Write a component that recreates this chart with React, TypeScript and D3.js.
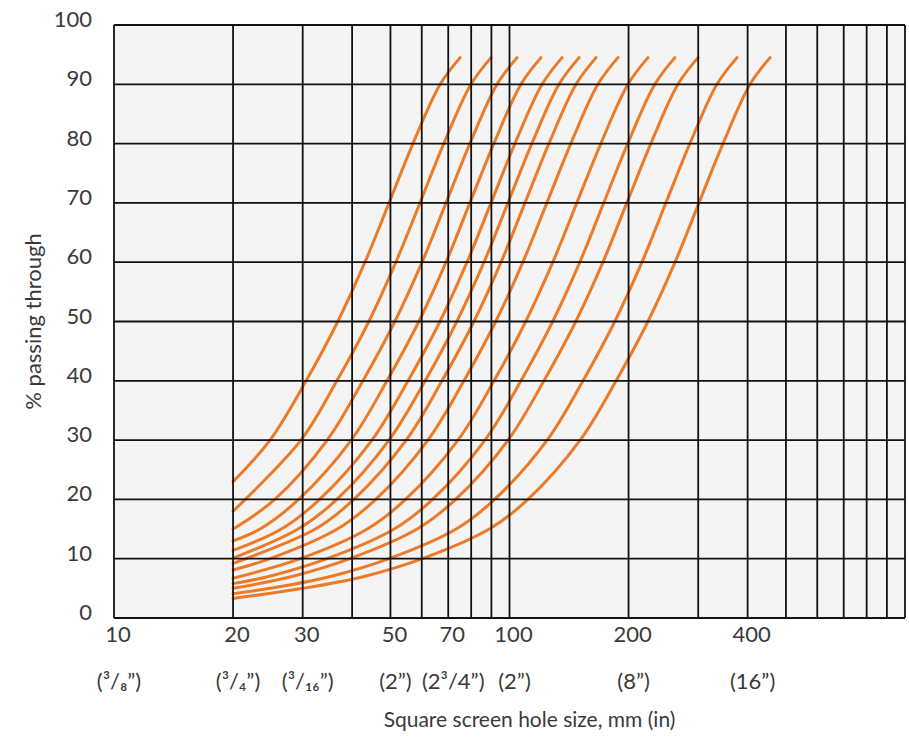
import React from "react";
import * as d3 from "d3";

// Grid values (mm) and y ticks (%)
const gridX = [10, 20, 30, 40, 50, 60, 70, 80, 90, 100, 200, 300, 400, 500, 600, 700, 800, 900, 1000];
const yTicks = [0, 10, 20, 30, 40, 50, 60, 70, 80, 90, 100];

// X tick labels: value (mm), mm label, inch label
const xTickValues = [10, 20, 30, 50, 70, 100, 200, 400];
const xTickMm = ["10", "20", "30", "50", "70", "100", "200", "400"];
const xTickIn = ["(³/₈”)", "(³/₄”)", "(³/₁₆”)", "(2”)", "(2³/4”)", "(2”)", "(8”)", "(16”)"];

// Grading curves: [screen size mm, % passing]
const curve1 = [[20, 23], [24.8, 30], [30.6, 40], [36.8, 50], [43.1, 60], [49.6, 70], [57, 80], [66.8, 90], [75, 94.5]];
const curve2 = [[20, 18], [29.7, 30], [36.6, 40], [44.1, 50], [51.6, 60], [59.4, 70], [68.2, 80], [79.9, 90], [89.8, 94.5]];
const curve3 = [[20, 15], [25.5, 20], [34.6, 30], [42.6, 40], [51.3, 50], [60.1, 60], [69.1, 70], [79.4, 80], [93, 90], [104.5, 94.5]];
const curve4 = [[20, 13], [23.4, 15], [29.3, 20], [39.8, 30], [49, 40], [59, 50], [69.1, 60], [79.4, 70], [91.3, 80], [106.9, 90], [120.1, 94.5]];
const curve5 = [[20, 11.4], [26.5, 15], [33.1, 20], [44.9, 30], [55.4, 40], [66.7, 50], [78.1, 60], [89.8, 70], [103.2, 80], [120.9, 90], [135.8, 94.5]];
const curve6 = [[20, 10.1], [29.2, 15], [36.6, 20], [49.6, 30], [61.2, 40], [73.6, 50], [86.2, 60], [99.1, 70], [113.9, 80], [133.4, 90], [149.9, 94.5]];
const curve7 = [[20, 9.2], [32.3, 15], [40.4, 20], [54.8, 30], [67.5, 40], [81.3, 50], [95.2, 60], [109.4, 70], [125.8, 80], [147.3, 90], [165.5, 94.5]];
const curve8 = [[20, 8.1], [24.8, 10], [36.7, 15], [45.9, 20], [62.2, 30], [76.7, 40], [92.3, 50], [108.1, 60], [124.3, 70], [142.9, 80], [167.3, 90], [188, 94.5]];
const curve9 = [[20, 6.7], [29.6, 10], [43.7, 15], [54.6, 20], [74.1, 30], [91.4, 40], [109.9, 50], [128.7, 60], [148, 70], [170.2, 80], [199.3, 90], [223.9, 94.5]];
const curve10 = [[20, 5.8], [24.6, 7], [34.6, 10], [51.1, 15], [63.9, 20], [86.7, 30], [106.9, 40], [128.6, 50], [150.6, 60], [173.1, 70], [199, 80], [233.1, 90], [261.9, 94.5]];
const curve11 = [[20, 5], [28.2, 7], [39.5, 10], [58.4, 15], [73.1, 20], [99.2, 30], [122.2, 40], [147.1, 50], [172.3, 60], [198, 70], [227.7, 80], [266.6, 90], [299.6, 94.5]];
const curve12 = [[20, 4.1], [24.8, 5], [35.3, 7], [49.6, 10], [73.3, 15], [91.7, 20], [124.5, 30], [153.4, 40], [184.6, 50], [216.2, 60], [248.5, 70], [285.8, 80], [334.6, 90], [376, 94.5]];
const curve13 = [[20, 3.3], [30.1, 5], [42.9, 7], [60.2, 10], [88.9, 15], [111.3, 20], [150.9, 30], [186, 40], [223.9, 50], [262.2, 60], [301.4, 70], [346.6, 80], [405.8, 90], [456, 94.5]];

const curves = [curve1, curve2, curve3, curve4, curve5, curve6, curve7, curve8, curve9, curve10, curve11, curve12, curve13];

const W = 909;
const H = 739;
const LEFT = 114;
const RIGHT = 905;
const TOP = 25;
const BOTTOM = 618;
const FONT = "Lato, 'Open Sans', sans-serif";
const TEXT = "#3a3a3a";
const ORANGE = "#ec7a26";

export default function App() {
  const x = d3.scaleLog().domain([10, 1000]).range([LEFT, RIGHT]);
  const y = d3.scaleLinear().domain([0, 100]).range([BOTTOM, TOP]);
  const line = d3
    .line<number[]>()
    .x((d) => x(d[0]))
    .y((d) => y(d[1]))
    .curve(d3.curveCatmullRom.alpha(0.5));

  return (
    <svg
      width={W}
      height={H}
      style={{ position: "absolute", left: 0, top: 0, background: "#fff" }}
    >
      <rect x={LEFT} y={TOP} width={RIGHT - LEFT} height={BOTTOM - TOP} fill="#f4f4f4" />
      {/* curves */}
      <g>
        {curves.map((c, i) => (
          <path
            key={i}
            d={line(c) || ""}
            fill="none"
            stroke={ORANGE}
            strokeWidth={3}
            strokeLinecap="round"
          />
        ))}
      </g>
      {/* grid */}
      <g stroke="#111" strokeWidth={1.8}>
        {yTicks.map((t) => (
          <line key={"h" + t} x1={LEFT} x2={RIGHT} y1={y(t)} y2={y(t)} />
        ))}
        {gridX.map((v) => (
          <line key={"v" + v} x1={x(v)} x2={x(v)} y1={TOP} y2={BOTTOM} />
        ))}
      </g>
      {/* y tick labels */}
      <g fontFamily={FONT} fontSize={22} fill={TEXT} textAnchor="end">
        {yTicks.map((t) => (
          <text key={"yl" + t} x={LEFT - 22} y={y(t) + 2}>
            {t}
          </text>
        ))}
      </g>
      {/* x tick labels */}
      <g fontFamily={FONT} fontSize={22} fill={TEXT} textAnchor="middle">
        {xTickValues.map((v, i) => (
          <g key={"xl" + v}>
            <text x={x(v) + 4} y={BOTTOM + 24}>
              {xTickMm[i]}
            </text>
            <text x={x(v) + 5} y={BOTTOM + 71}>
              {xTickIn[i]}
            </text>
          </g>
        ))}
      </g>
      <text
        x={(LEFT + RIGHT) / 2 + 20}
        y={H - 12}
        fontFamily={FONT}
        fontSize={21}
        fill={TEXT}
        textAnchor="middle"
      >
        Square screen hole size, mm (in)
      </text>
      <text
        transform={`translate(41, ${(TOP + BOTTOM) / 2}) rotate(-90)`}
        fontFamily={FONT}
        fontSize={22}
        fill={TEXT}
        textAnchor="middle"
      >
        % passing through
      </text>
    </svg>
  );
}
